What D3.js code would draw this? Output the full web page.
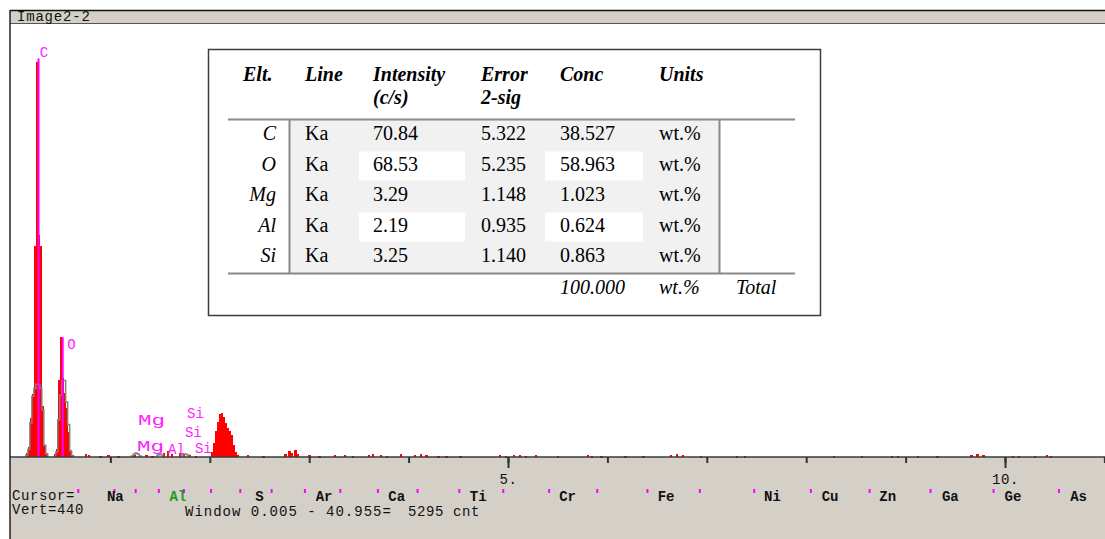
<!DOCTYPE html>
<html>
<head>
<meta charset="utf-8">
<script src="https://cdn.jsdelivr.net/npm/d3@7"></script>
<style>
  body { margin: 0; background: #fff; }
  svg { display: block; }
  .mono { font-family: "Liberation Mono", monospace; font-size: 14px; }
  .tbl { font-family: "Liberation Serif", "Times New Roman", serif; font-size: 20px; fill: #000; }
</style>
</head>
<body>
<div id="chart"></div>
<script>
// spectrum channels: [keV, counts], 0.02 keV per channel
var redC = [[0.16,4],[0.18,10],[0.20,40],[0.22,64],[0.24,215],[0.26,402],[0.28,226],[0.30,215],[0.32,52],[0.34,12],[0.36,4]];
var redO = [[0.44,3],[0.46,8],[0.48,78],[0.50,122],[0.52,80],[0.54,65],[0.56,50],[0.58,25],[0.60,7],[0.62,2]];
var redP = [[2.02,5],[2.04,14],[2.06,26],[2.08,36],[2.10,44],[2.12,45],[2.14,41],[2.16,35],[2.18,30],[2.20,26],[2.22,22],[2.24,12],[2.26,5],[2.28,2]];
var redNoise = [[0.75,3],[0.78,2],[0.90,1],[0.98,2],[1.08,1],[1.24,2],[1.36,2],[1.42,1],[1.54,4],[1.58,6],[1.62,3],
  [1.70,4],[1.74,3],[1.80,2],[1.86,1],[2.38,2],[2.54,1],[2.76,3],[2.80,6],[2.82,4],[2.86,7],[2.88,3],[3.00,2],
  [3.10,1],[3.26,2],[3.36,2],[3.44,1],[3.60,2],[3.64,3],[3.72,2],[3.78,1],[3.92,3],[4.06,2],[4.12,3],[4.18,2],
  [4.30,1],[4.38,1],[4.52,1],[4.92,2],[4.98,1],[5.06,2],[5.12,2],[5.18,1],[5.28,2],[5.50,1],[5.80,2],[5.84,1],
  [5.94,1],[6.18,1],[6.36,1],[6.64,2],[6.70,3],[6.76,2],[6.94,1],[7.30,1],[7.38,1],[8.28,1],[8.56,1],[8.86,1],
  [8.92,1],[9.12,1],[9.32,1],[9.66,2],[9.72,3],[9.78,2],[10.08,1],[10.14,1],[10.30,1],[10.42,2],[10.46,1]];

// comparison spectrum (grey outline)
var grayC = [[0.16,2],[0.18,8],[0.20,35],[0.22,62],[0.24,70],[0.26,74],[0.28,74],[0.30,70],[0.32,48],[0.34,12],[0.36,3]];
var grayO = [[0.46,5],[0.48,38],[0.50,63],[0.52,78],[0.54,78],[0.56,56],[0.58,33],[0.60,6],[0.62,1]];
var grayMg = [[1.22,1],[1.24,3],[1.26,4],[1.28,3],[1.30,1]];
var grayAl = [[1.48,2],[1.50,3],[1.52,2]];
var graySi = [[1.72,2],[1.74,3],[1.76,3],[1.78,2]];

// peak markers and KLM labels
var markerEl = ["C", "O"];
var markerE = [0.277, 0.52];
var markerTop = [406, 122];
var klmText = ["C", "O", "Mg", "Si", "Si", "Mg", "Al", "Si"];
var klmE = [0.29, 0.565, 1.278, 1.771, 1.75, 1.268, 1.58, 1.85];
var klmY = [407, 110, 32.6, 39.7, 20.4, 6.1, 3, 4];

// x axis
var axisTicks = [1, 2, 3, 4, 5, 6, 7, 8, 9, 10, 11];
var axisMajor = [5, 10];

// element line markers under the axis
var lineEl = ["F","Na","Mg","Al","Si","P","S","Cl","Ar","K","Ca","Sc","Ti","V","Cr","Mn","Fe","Co","Ni","Cu","Zn","Ga","Ge","As"];
var lineE = [0.677,1.041,1.254,1.487,1.740,2.013,2.307,2.622,2.957,3.313,3.691,4.090,4.510,4.952,5.414,5.898,6.403,6.930,7.477,8.047,8.638,9.251,9.885,10.543];
var lineLabel = ["Na","Al","S","Ar","Ca","Ti","Cr","Fe","Ni","Cu","Zn","Ga","Ge","As"];
var lineLabelE = [1.05,1.68,2.50,3.15,3.88,4.70,5.60,6.59,7.66,8.24,8.82,9.45,10.08,10.74];

// quant table
var tblHead1 = ["Elt.", "Line", "Intensity", "Error", "Conc", "Units"];
var tblHead2 = ["", "", "(c/s)", "2-sig", "", ""];
var elts = ["C", "O", "Mg", "Al", "Si"];
var lineType = ["Ka", "Ka", "Ka", "Ka", "Ka"];
var intensity = ["70.84", "68.53", "3.29", "2.19", "3.25"];
var error2sig = ["5.322", "5.235", "1.148", "0.935", "1.140"];
var conc = ["38.527", "58.963", "1.023", "0.624", "0.863"];
var units = ["wt.%", "wt.%", "wt.%", "wt.%", "wt.%"];
var totalRow = ["100.000", "wt.%", "Total"];

var svgWidth = 1105;
var svgHeight = 539;

var svg = d3.select("#chart")
  .append("svg")
  .attr("width", svgWidth)
  .attr("height", svgHeight);

var xScale = d3.scaleLinear().domain([0, 11]).range([11, 1104.4]);
var yScale = d3.scaleLinear().domain([0, 440]).range([457, 25]);
var chanW = 0.02;
var barW = xScale(chanW) - xScale(0);

// window frame + title bar
svg.append("rect").attr("x", 10).attr("y", 10).attr("width", 1095).attr("height", 14).attr("fill", "#d4d0c8");
svg.append("line").attr("x1", 10).attr("x2", 1105).attr("y1", 10.5).attr("y2", 10.5).attr("stroke", "#111").attr("stroke-width", 1.5);
svg.append("line").attr("x1", 10).attr("x2", 1105).attr("y1", 23.5).attr("y2", 23.5).attr("stroke", "#555").attr("stroke-width", 1.2);
svg.append("text").attr("class", "mono").attr("x", 17).attr("y", 21)
  .attr("font-size", "13px").attr("letter-spacing", "0.8px").attr("fill", "#111").text("Image2-2");

// bottom panel
svg.append("rect").attr("x", 10).attr("y", 457).attr("width", 1095).attr("height", 82).attr("fill", "#d4d0c8");

// red spectrum
var redAll = redC.concat(redO, redP, redNoise);
svg.append("g")
  .attr("shape-rendering", "crispEdges")
  .selectAll("rect")
  .data(redAll)
  .enter()
  .append("rect")
  .attr("x", d => xScale(d[0] - chanW / 2))
  .attr("width", barW + 0.4)
  .attr("y", d => yScale(d[1]))
  .attr("height", d => Math.max(1.5, yScale(0) - yScale(d[1])))
  .attr("fill", "#ff0000");

// grey comparison outline
var stepLine = d3.line()
  .x(d => xScale(d[0]))
  .y(d => yScale(d[1]))
  .curve(d3.curveStepAfter);

[grayC, grayO, grayMg, grayAl, graySi].forEach(function(seg) {
  var pts = [[seg[0][0] - chanW / 2, 0]];
  seg.forEach(d => pts.push([d[0] - chanW / 2, d[1]]));
  pts.push([seg[seg.length - 1][0] + chanW / 2, 0]);
  svg.append("path")
    .attr("d", stepLine(pts))
    .attr("fill", "none")
    .attr("stroke", "#808080")
    .attr("stroke-width", 1.5);
});

// magenta peak markers
svg.append("g").selectAll("line")
  .data(markerE)
  .enter()
  .append("line")
  .attr("x1", d => xScale(d)).attr("x2", d => xScale(d))
  .attr("y1", yScale(0))
  .attr("y2", (d, i) => yScale(markerTop[i]))
  .attr("stroke", "#ff00ff")
  .attr("stroke-width", 2);

svg.append("g").selectAll("text")
  .data(klmText)
  .enter()
  .append("text")
  .attr("class", "mono")
  .attr("x", (d, i) => xScale(klmE[i]))
  .attr("y", (d, i) => yScale(klmY[i]))
  .attr("fill", "#ff22ff")
  .attr("textLength", d => d === "Mg" ? 27 : null)
  .attr("lengthAdjust", "spacingAndGlyphs")
  .text(d => d);

// baseline and axis ticks
svg.append("line").attr("x1", 10).attr("x2", 1105).attr("y1", 457).attr("y2", 457)
  .attr("stroke", "#3a3a3a").attr("stroke-width", 1.5);

var minorAxis = d3.axisBottom(xScale).tickValues(axisTicks).tickSize(6).tickSizeOuter(0).tickFormat("");
var gMinor = svg.append("g").attr("transform", "translate(0,457)").call(minorAxis);
gMinor.select(".domain").remove();
gMinor.selectAll("line").attr("stroke", "#333").attr("stroke-width", 2);

var majorAxis = d3.axisBottom(xScale).tickValues(axisMajor).tickSize(11).tickSizeOuter(0)
  .tickPadding(6).tickFormat(d => d + ".");
var gMajor = svg.append("g").attr("transform", "translate(0,457)").call(majorAxis);
gMajor.select(".domain").remove();
gMajor.selectAll("line").attr("stroke", "#333").attr("stroke-width", 2);
gMajor.selectAll("text")
  .attr("font-family", "Liberation Mono, monospace")
  .attr("font-size", "14px")
  .attr("letter-spacing", "0.6px")
  .attr("fill", "#111");

// left edge of the window
svg.append("line").attr("x1", 10).attr("x2", 10).attr("y1", 10).attr("y2", 539)
  .attr("stroke", "#222").attr("stroke-width", 1.5);

// element line marks
svg.append("g").selectAll("rect")
  .data(lineE)
  .enter()
  .append("rect")
  .attr("x", d => xScale(d) - 1)
  .attr("y", 489)
  .attr("width", 2)
  .attr("height", 4)
  .attr("fill", "#ff00ff");

svg.append("g").selectAll("text")
  .data(lineLabel)
  .enter()
  .append("text")
  .attr("class", "mono")
  .attr("font-size", "10px")
  .attr("font-weight", "bold")
  .attr("x", (d, i) => xScale(lineLabelE[i]))
  .attr("y", 500.5)
  .attr("text-anchor", "middle")
  .attr("fill", d => d === "Al" ? "#1e9a1e" : "#111")
  .text(d => d);

// status text
svg.append("text").attr("class", "mono").attr("x", 12).attr("y", 500)
  .attr("letter-spacing", "0.6px").attr("fill", "#111").text("Cursor=");
svg.append("text").attr("class", "mono").attr("x", 12).attr("y", 514)
  .attr("letter-spacing", "0.6px").attr("fill", "#111").text("Vert=440");
svg.append("text").attr("class", "mono").attr("x", 185).attr("y", 516)
  .attr("letter-spacing", "1px").attr("fill", "#111").text("Window 0.005 - 40.955=");
svg.append("text").attr("class", "mono").attr("x", 408).attr("y", 516)
  .attr("letter-spacing", "0.6px").attr("fill", "#111").text("5295 cnt");

// ---- quant table ----
var tbl = svg.append("g");
tbl.append("rect").attr("x", 208.5).attr("y", 49.5).attr("width", 612).attr("height", 266)
  .attr("fill", "#fff").attr("stroke", "#3c3c3c").attr("stroke-width", 1.5);

tbl.append("rect").attr("x", 290).attr("y", 120).attr("width", 430).attr("height", 153).attr("fill", "#f1f1f1");

var rowY = [140, 170.5, 201, 231.5, 262];
// white cells on O and Al rows
[1, 3].forEach(function(r) {
  tbl.append("rect").attr("x", 359).attr("y", rowY[r] - 19).attr("width", 106).attr("height", 29).attr("fill", "#fff");
  tbl.append("rect").attr("x", 545).attr("y", rowY[r] - 19).attr("width", 98).attr("height", 29).attr("fill", "#fff");
});

tbl.append("line").attr("x1", 228).attr("x2", 795).attr("y1", 119.5).attr("y2", 119.5).attr("stroke", "#888").attr("stroke-width", 2);
tbl.append("line").attr("x1", 228).attr("x2", 795).attr("y1", 273.5).attr("y2", 273.5).attr("stroke", "#888").attr("stroke-width", 2);
tbl.append("line").attr("x1", 289.5).attr("x2", 289.5).attr("y1", 119).attr("y2", 274).attr("stroke", "#888").attr("stroke-width", 2);
tbl.append("line").attr("x1", 719.5).attr("x2", 719.5).attr("y1", 119).attr("y2", 274).attr("stroke", "#888").attr("stroke-width", 2);

var colX = [243, 305, 373, 481, 560, 659];
tblHead1.forEach(function(h, i) {
  tbl.append("text").attr("class", "tbl").attr("x", colX[i]).attr("y", 81)
    .attr("font-weight", "bold").attr("font-style", "italic").text(h);
  if (tblHead2[i]) {
    tbl.append("text").attr("class", "tbl").attr("x", colX[i]).attr("y", 104)
      .attr("font-weight", "bold").attr("font-style", "italic").text(tblHead2[i]);
  }
});

elts.forEach(function(e, r) {
  tbl.append("text").attr("class", "tbl").attr("x", 276).attr("y", rowY[r])
    .attr("text-anchor", "end").attr("font-style", "italic").text(e);
  [lineType[r], intensity[r], error2sig[r], conc[r], units[r]].forEach(function(v, c) {
    tbl.append("text").attr("class", "tbl").attr("x", colX[c + 1]).attr("y", rowY[r]).text(v);
  });
});

var totalX = [560, 659, 736];
totalRow.forEach(function(v, i) {
  tbl.append("text").attr("class", "tbl").attr("x", totalX[i]).attr("y", 294)
    .attr("font-style", "italic").text(v);
});
</script>
</body>
</html>
